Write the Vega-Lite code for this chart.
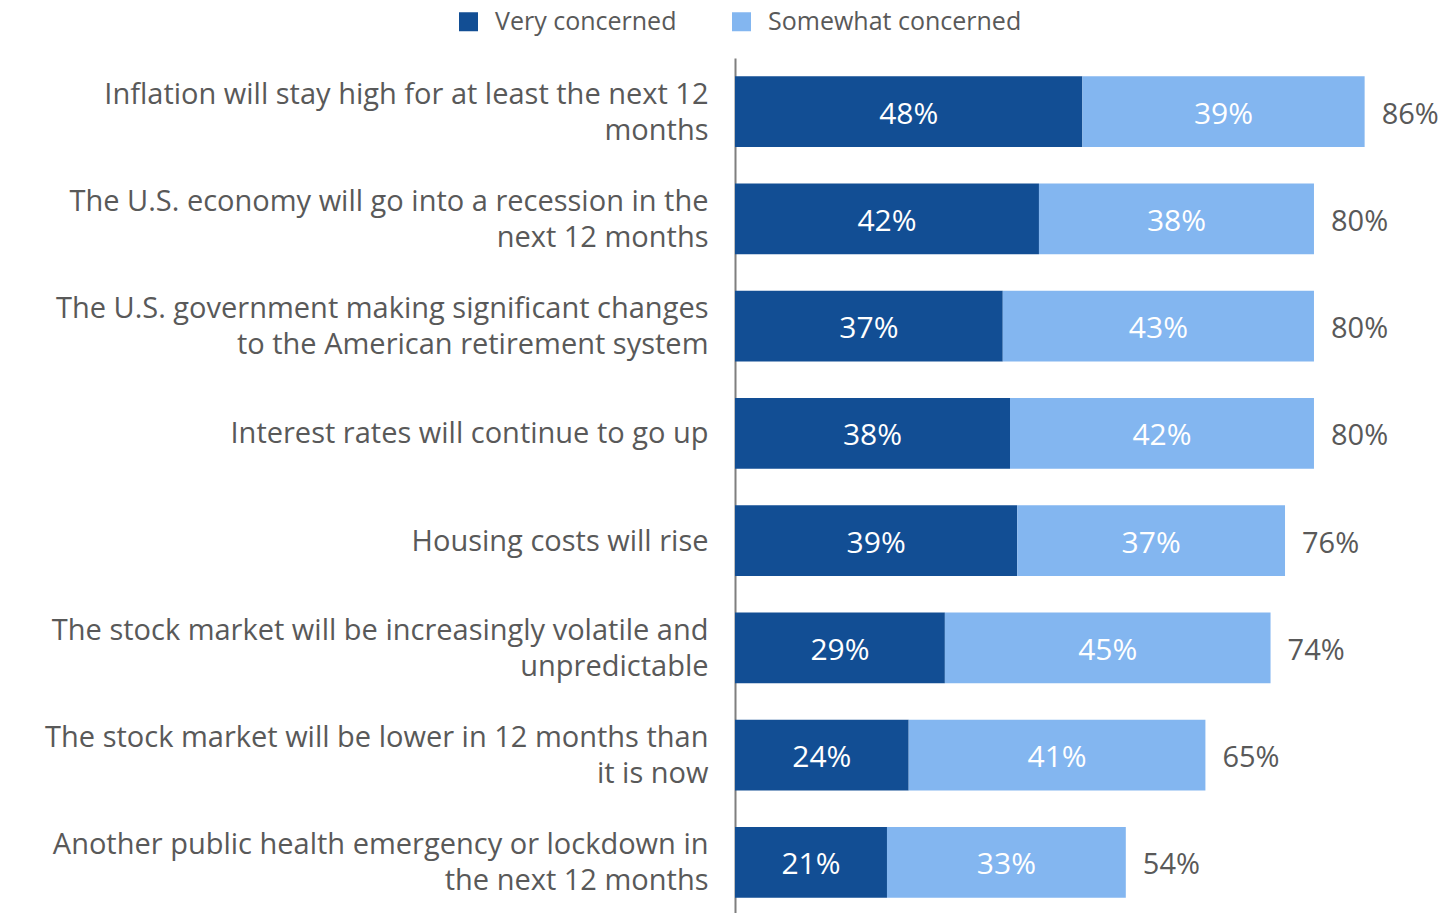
{
  "$schema": "https://vega.github.io/schema/vega-lite/v6.json",
  "autosize": {"type": "none"},
  "padding": {"left": 735, "top": 58, "right": 9, "bottom": 0},
  "width": 702,
  "height": 858,
  "config": {
    "view": {"stroke": null},
    "font": "Open Sans",
    "text": {"font": "Open Sans"}
  },
  "data": {
    "values": [
      {"category": "Inflation will stay high for at least the next 12|months", "series": "Very concerned", "value": 0.48, "total": 0.86},
      {"category": "Inflation will stay high for at least the next 12|months", "series": "Somewhat concerned", "value": 0.39, "total": 0.86},
      {"category": "The U.S. economy will go into a recession in the|next 12 months", "series": "Very concerned", "value": 0.42, "total": 0.80},
      {"category": "The U.S. economy will go into a recession in the|next 12 months", "series": "Somewhat concerned", "value": 0.38, "total": 0.80},
      {"category": "The U.S. government making significant changes|to the American retirement system", "series": "Very concerned", "value": 0.37, "total": 0.80},
      {"category": "The U.S. government making significant changes|to the American retirement system", "series": "Somewhat concerned", "value": 0.43, "total": 0.80},
      {"category": "Interest rates will continue to go up", "series": "Very concerned", "value": 0.38, "total": 0.80},
      {"category": "Interest rates will continue to go up", "series": "Somewhat concerned", "value": 0.42, "total": 0.80},
      {"category": "Housing costs will rise", "series": "Very concerned", "value": 0.39, "total": 0.76},
      {"category": "Housing costs will rise", "series": "Somewhat concerned", "value": 0.37, "total": 0.76},
      {"category": "The stock market will be increasingly volatile and|unpredictable", "series": "Very concerned", "value": 0.29, "total": 0.74},
      {"category": "The stock market will be increasingly volatile and|unpredictable", "series": "Somewhat concerned", "value": 0.45, "total": 0.74},
      {"category": "The stock market will be lower in 12 months than|it is now", "series": "Very concerned", "value": 0.24, "total": 0.65},
      {"category": "The stock market will be lower in 12 months than|it is now", "series": "Somewhat concerned", "value": 0.41, "total": 0.65},
      {"category": "Another public health emergency or lockdown in|the next 12 months", "series": "Very concerned", "value": 0.21, "total": 0.54},
      {"category": "Another public health emergency or lockdown in|the next 12 months", "series": "Somewhat concerned", "value": 0.33, "total": 0.54}
    ]
  },
  "encoding": {
    "y": {
      "field": "category",
      "type": "nominal",
      "sort": null,
      "scale": {"paddingInner": 0.34, "paddingOuter": 0.17},
      "axis": {
        "title": null,
        "ticks": false,
        "labelFontSize": 29,
        "labelColor": "#595959",
        "labelLimit": 0,
        "labelPadding": 27,
        "labelLineHeight": 36,
        "labelOffset": {"condition": {"test": "indexof(datum.value, '|') >= 0", "value": -17}, "value": 1},
        "labelExpr": "split(datum.label, '|')",
        "domainColor": "#7f7f7f",
        "domainWidth": 2
      }
    }
  },
  "layer": [
    {
      "mark": {"type": "bar"},
      "encoding": {
        "x": {"field": "value", "type": "quantitative", "scale": {"domain": [0, 0.97], "nice": false}, "axis": null},
        "color": {
          "field": "series",
          "type": "nominal",
          "scale": {"domain": ["Very concerned", "Somewhat concerned"], "range": ["#124E94", "#83B6F0"]},
          "legend": {
            "title": null,
            "orient": "none",
            "direction": "horizontal",
            "legendX": -279,
            "legendY": -49,
            "symbolType": "square",
            "symbolSize": 361,
            "symbolStrokeWidth": 0,
            "labelFontSize": 25,
            "labelColor": "#595959",
            "labelLimit": 0,
            "labelOffset": 14,
            "columnPadding": 52
          }
        },
        "order": {"field": "series", "sort": "descending"}
      }
    },
    {
      "transform": [
        {"stack": "value", "groupby": ["category"], "sort": [{"field": "series", "order": "descending"}], "as": ["v0", "v1"]},
        {"fold": ["v0", "v1"], "as": ["edge", "pos"]}
      ],
      "mark": {"type": "text", "color": "white", "fontSize": 30, "align": "center", "baseline": "middle", "dy": 3},
      "encoding": {
        "x": {"field": "pos", "aggregate": "mean", "type": "quantitative"},
        "detail": {"field": "series"},
        "text": {"field": "value", "type": "quantitative", "format": ".0%"}
      }
    },
    {
      "mark": {"type": "text", "color": "#595959", "fontSize": 29, "align": "left", "baseline": "middle", "dx": 17, "dy": 3},
      "encoding": {
        "x": {"field": "value", "aggregate": "sum", "type": "quantitative"},
        "text": {"field": "total", "type": "quantitative", "format": ".0%"}
      }
    }
  ]
}
